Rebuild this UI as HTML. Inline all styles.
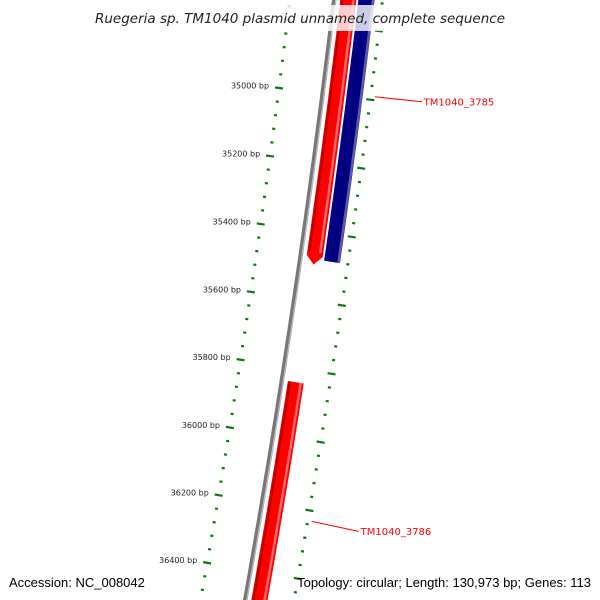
<!DOCTYPE html>
<html><head><meta charset="utf-8"><style>
html,body{margin:0;padding:0;background:#fff;overflow:hidden;width:600px;height:600px;}
svg{display:block;font-family:"DejaVu Sans","Liberation Sans",sans-serif;overflow:hidden;}
</style></head><body>
<svg id="map" width="600" height="600" viewBox="0 0 600 600" xmlns="http://www.w3.org/2000/svg">
<g id="ring"></g>
<g id="ann"></g>
<rect x="88" y="5" width="424" height="26" fill="#fff" fill-opacity="0.8"/>
<text x="300" y="23" text-anchor="middle" font-size="13.5" font-style="italic" fill="#222">Ruegeria sp. TM1040 plasmid unnamed, complete sequence</text>
<text x="9" y="587" font-size="13" fill="#000" style="font-family:'Liberation Sans',sans-serif">Accession: NC_008042</text>
<text x="591" y="587" text-anchor="end" font-size="13" fill="#000" style="font-family:'Liberation Sans',sans-serif">Topology: circular; Length: 130,973 bp; Genes: 113</text>
</svg>
<script>
// data
const geneNames = ["TM1040_3785", "", "TM1040_3786"];
const geneStarts = [34600, 34600, 35840];
const geneEnds = [35495, 35480, 36700];
const geneLanes = ["rev", "fwd", "rev"];
const geneArrow = [true, false, false];
const labelBp = [34990, 36230];
const labelGene = [0, 2];
const majorTicks = [35000, 35200, 35400, 35600, 35800, 36000, 36200, 36400];

const NS = "http://www.w3.org/2000/svg";
const R = 10500, K = 3.267e-5, T0 = 0.1274, B0 = 35000;
const CX = 279 - R * Math.cos(T0), CY = 88 - R * Math.sin(T0);
function pt(bp, off) { const t = T0 + (bp - B0) * K, r = R + off; return [CX + r * Math.cos(t), CY + r * Math.sin(t)]; }
function mk(tag, attrs, parent) { const e = document.createElementNS(NS, tag); for (const k in attrs) e.setAttribute(k, attrs[k]); parent.appendChild(e); return e; }
const ring = document.getElementById('ring'), ann = document.getElementById('ann');
function arcPath(b1, b2, off) { let d = ""; for (let b = b1; b <= b2; b += 20) { const p = pt(b, off); d += (d ? "L" : "M") + p[0].toFixed(1) + "," + p[1].toFixed(1); } return d; }

// backbone
let bb = mk('path', { d: arcPath(34600, 36700, 44), stroke: '#777', 'stroke-width': 4.5, fill: 'none' }, ring);


let bb2 = mk('path', { d: arcPath(34600, 36700, 45.5), stroke: '#bbb', 'stroke-width': 1.2, fill: 'none' }, ring);



// ticks
for (let b = 34600; b <= 36700; b += 40) {
  const major = (b % 200 === 0);
  [0, 92].forEach(off => {
    const len = major ? 8 : 3;
    const a = pt(b, off - len / 2), c = pt(b, off + len / 2);
    const l = mk('line', { x1: a[0], y1: a[1], x2: c[0], y2: c[1], stroke: '#0a7a0a', 'stroke-width': 2.2 }, ring);
    
    
  });
}
majorTicks.forEach(b => {
  const p = pt(b, -10);
  const t = mk('text', { x: p[0].toFixed(1), y: (p[1] + 2).toFixed(1), 'text-anchor': 'end', 'font-size': 8, fill: '#222' }, ring);
  t.textContent = b + " bp";
  
  
});

// genes
geneStarts.forEach((s, i) => {
  const e = geneEnds[i], mid = geneLanes[i] === 'fwd' ? 76 : 58, w = 8;
  const col = geneLanes[i] === 'fwd' ? '#000080' : '#ff0000';
  const ah = geneArrow[i] ? 25 : 0;
  let pts = [];
  for (let b = s; b <= e - ah; b += 20) pts.push(pt(b, mid + w));
  if (ah) { pts.push(pt(e - ah, mid + w)); pts.push(pt(e, mid)); pts.push(pt(e - ah, mid - w)); }
  else pts.push(pt(e, mid + w), pt(e, mid - w));
  for (let b = e - ah; b >= s; b -= 20) pts.push(pt(b, mid - w));
  const g = mk('polygon', { points: pts.map(p => p[0].toFixed(1) + "," + p[1].toFixed(1)).join(" "), fill: col }, ann);
  
  
  const hl = mk('path', { d: arcPath(s, e - ah, mid + (geneLanes[i] === 'fwd' ? 6.5 : 5)), stroke: geneLanes[i] === 'fwd' ? '#5a5ab0' : '#ff6666', 'stroke-width': 2.5, fill: 'none' }, ann);
  
  
  if (geneLanes[i] === 'rev') {
    const sh = mk('path', { d: arcPath(s, e - ah, mid - 6), stroke: '#c00000', 'stroke-width': 2.5, fill: 'none' }, ann);
    
    
  }
});

// labels
labelBp.forEach((b, i) => {
  const p = pt(b, 96);
  const q = [p[0] + 47, p[1] + (i === 0 ? 5 : 10)];
  const l = mk('line', { x1: p[0], y1: p[1], x2: q[0], y2: q[1], stroke: '#ff0000', 'stroke-width': 1 }, ann);
  
  
  const t = mk('text', { x: q[0] + 2, y: q[1] + 3.5, 'font-size': 10, fill: '#ff0000' }, ann);
  t.textContent = geneNames[labelGene[i]];
  
  
});
</script>
</body></html>
